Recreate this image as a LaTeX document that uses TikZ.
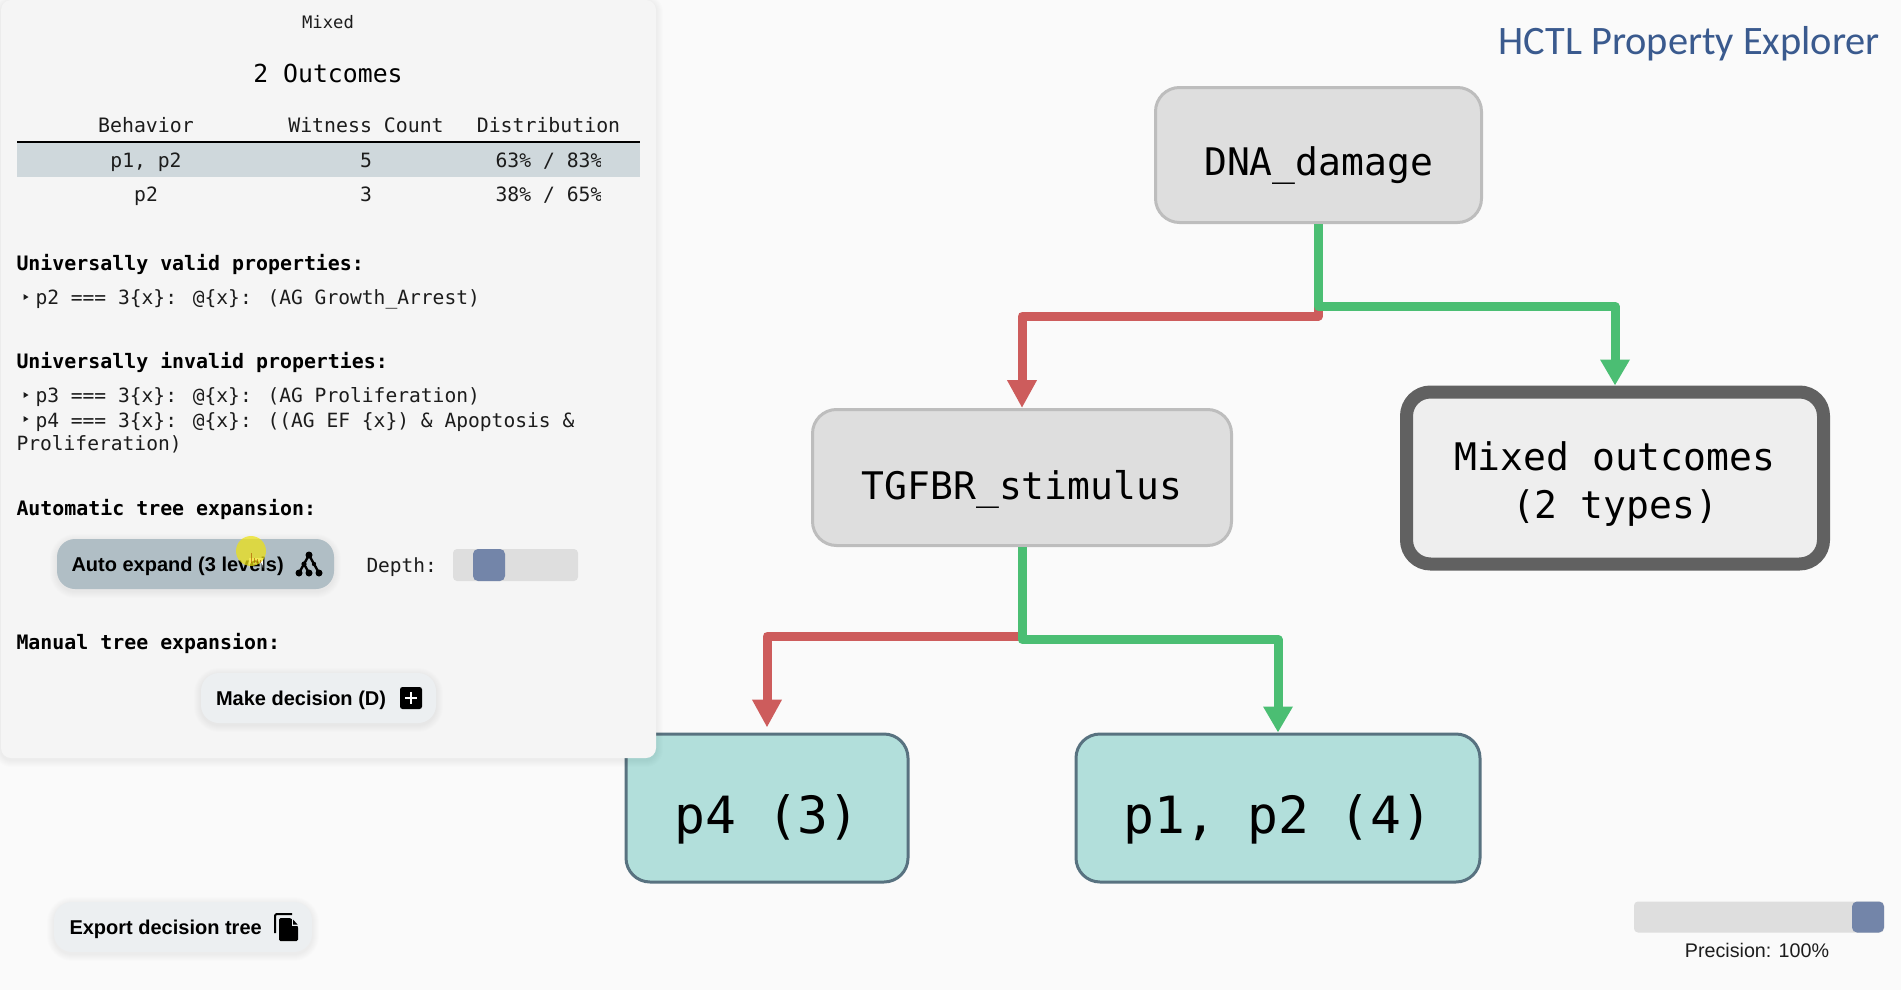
\documentclass[tikz,border=0pt]{standalone}
\usepackage{fontspec}
\setmainfont{Liberation Sans}
\newfontfamily\monof{DejaVu Sans Mono}
\newfontfamily\titlef{Carlito}
\usetikzlibrary{arrows.meta}
\definecolor{bgc}{HTML}{FAFAFA}
\definecolor{panelc}{HTML}{F5F5F5}
\definecolor{redc}{HTML}{CD5C5C}
\definecolor{greenc}{HTML}{4BBE73}
\definecolor{slidec}{HTML}{DEDEDE}
\definecolor{knobc}{HTML}{7385A9}
\definecolor{titlec}{HTML}{3A5A8E}
\definecolor{rowc}{HTML}{CFD8DC}
\definecolor{autoc}{HTML}{B0BEC5}
\definecolor{btnc}{HTML}{ECEFF1}
\definecolor{txtc}{HTML}{1C1C1C}
\newcommand\softshadow[5]{%
  \foreach \d in {1,2,...,7}{
    \fill[black,opacity=.008,rounded corners=#5+\d] (#1-\d,#2-\d+2) rectangle (#3+\d,#4+\d+2);
  }}
\newcommand\mono[1]{\fontsize{#1}{#1}\selectfont\monof}
\tikzset{
  x=1pt,y=-1pt,
  every node/.style={inner sep=0pt,outer sep=0pt},
  treebox/.style={draw=#1,line width=3pt,rounded corners=24pt,align=center,text=black,outer sep=1.5pt},
  grayfill/.style={treebox=black!26,fill=slidec,font=\mono{38}},
  leaffill/.style={treebox=leafedge,fill=leafc,font=\mono{51.3}},
  mixedfill/.style={treebox=mixededge,line width=13pt,outer sep=6.5pt,fill=black!6.5,font=\mono{38}},
  redline/.style={draw=redc,line width=9pt,line join=round,-{Triangle[width=28pt,length=28pt]}},
  greenline/.style={draw=greenc,line width=9pt,line join=round,-{Triangle[width=28pt,length=26pt]}},
  small/.style={anchor=base,text=txtc,font=\mono{19.7}},
  headtxt/.style={anchor=base,text=txtc,font=\mono{19.85}},
  lefttxt/.style={anchor=base west,text=txtc,font=\mono{19.6}},
  boldtxt/.style={anchor=base west,text=black,font=\mono{19.9}\bfseries},
  btntxt/.style={anchor=base west,text=black,font=\fontsize{20}{20}\selectfont\bfseries},
  bullet/.style={fill=txtc,draw=none},
}
\definecolor{leafc}{HTML}{B2DFDB}
\definecolor{leafedge}{HTML}{587280}
\definecolor{mixededge}{HTML}{616161}
\begin{document}
\begin{tikzpicture}
\useasboundingbox (0,0) rectangle (1901,990);
\fill[bgc] (0,0) rectangle (1901,990);

% tree nodes
\node[grayfill,minimum width=326pt,minimum height=135pt,text height=41pt,text depth=0pt] (dna) at (1318.5,155) {DNA\_damage};
\node[grayfill,minimum width=419pt,minimum height=136pt,text height=43pt,text depth=0pt] (tgfbr) at (1022,477.5) {TGFBR\_stimulus};
\node[mixedfill,minimum width=417pt,minimum height=172pt] (mixed) at (1615,478) {\rule{0pt}{41pt}Mixed outcomes\\[10pt](2 types)};
\node[leaffill,minimum width=282pt,minimum height=148pt,text height=50pt,text depth=0pt] (p4) at (767,808) {p4 (3)};
\node[leaffill,minimum width=404pt,minimum height=148pt,text height=50pt,text depth=0pt] (p12) at (1278,808) {p1, p2 (4)};

% connectors
\draw[redline] (dna.south) -- ++(0,92) -| (tgfbr.north);
\draw[greenline] (dna.south) -- ++(0,82.5) -| (mixed.north);
\draw[redline,shorten >=5pt] (tgfbr.south) -- ++(0,89) -| (p4.north);
\draw[greenline] (tgfbr.south) -- ++(0,92.5) -| (p12.north);

% title
\node[anchor=base east,text=titlec,font=\fontsize{40.4}{40.4}\selectfont\titlef] (title) at (1880,55) {HCTL Property Explorer};

% side panel
\softshadow{1}{0}{656}{758}{10}
\node[fill=panelc,rounded corners=10pt,minimum width=655pt,minimum height=758pt] (panel) at (328.5,379) {};
\node[anchor=base,text=txtc,font=\mono{17.2}] (mixedtitle) at (328,29) {Mixed};
\node[anchor=base,text=black,font=\mono{24.8}] (outcomes) at (328,82) {2 Outcomes};
\node[headtxt] (hb) at (146,132) {Behavior};
\node[headtxt] (hw) at (366,132) {Witness Count};
\node[headtxt] (hd) at (548.5,132) {Distribution};
\node[fill=rowc,minimum width=623pt,minimum height=35pt] (rowbar) at (328.5,159.5) {};
\draw[black,line width=1.2pt] (rowbar.north west) -- (rowbar.north east);
\node[small] (r1a) at (146,167) {p1, p2};
\node[small] (r1b) at (366,167) {5};
\begin{scope}
\clip (480,142) rectangle (600,210);
\node[small] (r1c) at (549,167) {63\% / 83\%};
\node[small] (r2c) at (549,201) {38\% / 65\%};
\end{scope}
\node[small] (r2a) at (146,201) {p2};
\node[small] (r2b) at (366,201) {3};

\node[boldtxt] (uv) at (16.5,270) {Universally valid properties:};
\fill[bullet] (23.5,294) -- (28.5,297) -- (23.5,300) -- cycle;
\node[lefttxt] (p2l) at (35.5,304) {p2 === 3\{x\}: @\{x\}: (AG Growth\_Arrest)};
\node[boldtxt] (ui) at (16.5,368) {Universally invalid properties:};
\fill[bullet] (23.5,392) -- (28.5,395) -- (23.5,398) -- cycle;
\node[lefttxt] (p3l) at (35.5,402) {p3 === 3\{x\}: @\{x\}: (AG Proliferation)};
\fill[bullet] (23.5,416) -- (28.5,419) -- (23.5,422) -- cycle;
\node[lefttxt] (p4l) at (35.5,427) {p4 === 3\{x\}: @\{x\}: ((AG EF \{x\}) \& Apoptosis \&};
\node[lefttxt] (p4m) at (16.5,450) {Proliferation)};
\node[boldtxt] (auto) at (16.5,515) {Automatic tree expansion:};
\node[boldtxt] (manual) at (16.5,649) {Manual tree expansion:};

% auto expand button
\softshadow{57}{539}{334}{589}{18}
\node[fill=autoc,rounded corners=18pt,minimum width=277pt,minimum height=50pt] (autobtn) at (195.5,564) {};
\node[btntxt] (autotxt) at (71.5,571) {Auto expand (3 levels)};
\draw[black,line width=2.4pt] (299,573) -- (309,555) -- (319,573) (304,564) -- (309,573);
\fill[black] (309,555) circle (3.5) (299,573) circle (3.5) (309,573) circle (3.5) (319,573) circle (3.5) (304,564) circle (2.6) (314,564) circle (2.2);
% cursor
\fill[white] (249,558) -- (263,558) -- (263,568) arc (0:-180:7 and 8) -- cycle;
\fill[yellow!92!black,opacity=.72] (251,551) circle (15);
\draw[orange!70!black,opacity=.65,line width=.9pt] (251,563) -- (251,553) (254,563) -- (254,558) (257,563) -- (257,559) (260,563) -- (260,560);

% depth slider
\node[anchor=base west,text=txtc,font=\mono{19.5}] (depth) at (366.5,572) {Depth:};
\node[fill=slidec,rounded corners=4pt,minimum width=125pt,minimum height=32pt] (dtrack) at (515.5,565) {};
\node[fill=knobc,rounded corners=5pt,minimum width=32pt,minimum height=32pt] (dknob) at (489,565) {};

% make decision button
\softshadow{201}{673}{436}{723}{18}
\node[fill=btnc,rounded corners=18pt,minimum width=235pt,minimum height=50pt] (makebtn) at (318.5,698) {};
\node[btntxt] (maketxt) at (216,705) {Make decision (D)};
\node[fill=black,rounded corners=2.5pt,minimum width=22pt,minimum height=22pt] (plusbox) at (411,698) {};
\draw[white,line width=2.8pt] (405,698) -- (417,698) (411,692) -- (411,704);

% export button
\softshadow{54}{902}{312}{952}{18}
\node[fill=btnc,rounded corners=18pt,minimum width=258pt,minimum height=50pt] (expbtn) at (183,927) {};
\node[btntxt] (exptxt) at (69.5,934) {Export decision tree};
\draw[black,line width=2pt,rounded corners=1.5pt] (275,933) -- (275,914) -- (292,914);
\fill[black,rounded corners=1.5pt] (279,918) -- (291,918) -- (298,926) -- (298,941) -- (279,941) -- cycle;
\fill[btnc] (291.5,916) -- (291.5,925.5) -- (299,925.5) -- (299,916) -- cycle;
\fill[black] (293,919.5) -- (293,924.5) -- (297.5,924.5) -- cycle;

% precision slider
\node[fill=slidec,rounded corners=4pt,minimum width=250pt,minimum height=31pt] (ptrack) at (1759,917) {};
\node[fill=knobc,rounded corners=5pt,minimum width=32pt,minimum height=31pt] (pknob) at (1868,917) {};
\node[anchor=base,text=txtc,font=\fontsize{19.7}{19.7}\selectfont] (ptxt) at (1757,957) {Precision: 100\%};
\end{tikzpicture}
\end{document}
